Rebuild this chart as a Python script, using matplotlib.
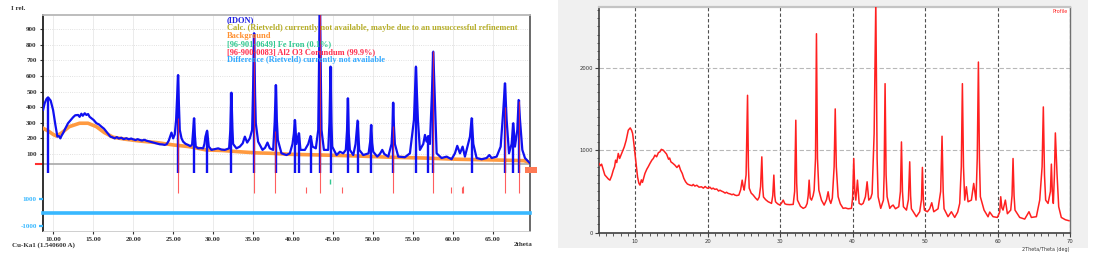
import matplotlib
matplotlib.use("Agg")
import matplotlib.pyplot as plt
from matplotlib.patches import Rectangle
from matplotlib.ticker import MultipleLocator
from matplotlib.transforms import blended_transform_factory

W, H, DPI = 1101, 262, 100

# ---------------- left panel: measured scan (IDON) ----------------
scan_x = [8.73, 8.93, 9.15, 9.35, 9.52, 9.68, 9.98, 10.27, 10.52, 10.7, 10.89, 11.05, 11.23, 11.5,
          11.85, 12.1, 12.48, 12.75, 13.11, 13.3, 13.52, 13.7, 13.94, 14.15, 14.36, 14.55, 14.77,
          15.05, 15.4, 15.7, 16.03, 16.35, 16.65, 16.9, 17.15, 17.4, 17.69, 17.95, 18.2, 18.53,
          18.8, 19.15, 19.45, 19.75, 19.99, 20.3, 20.55, 20.82, 21.1, 21.4, 21.66, 21.95, 22.2,
          22.49, 22.8, 23.05, 23.33, 23.65, 23.95, 24.2, 24.45, 24.79, 25.0, 25.2, 25.37, 25.5,
          25.62, 25.72, 25.83, 26.05, 26.25, 26.55, 26.87, 27.15, 27.37, 27.5, 27.62, 27.72, 27.83,
          28.12, 28.45, 28.75, 28.92, 29.04, 29.25, 29.46, 29.79, 30.2, 30.63, 31.05, 31.46, 32.0,
          32.15, 32.29, 32.42, 32.5, 32.92, 33.34, 33.7, 33.97, 34.26, 34.59, 34.88, 35.0, 35.13,
          35.25, 35.34, 35.63, 36.18, 36.5, 36.8, 37.09, 37.51, 37.7, 37.85, 37.97, 38.1, 38.55,
          39.18, 39.6, 39.93, 40.1, 40.23, 40.43, 40.73, 40.93, 41.48, 41.9, 42.19, 42.44, 42.85,
          43.15, 43.35, 43.56, 43.86, 44.4, 44.55, 44.69, 44.8, 44.9, 45.44, 45.86, 46.28, 46.6,
          46.75, 46.86, 46.97, 47.11, 47.53, 47.82, 48.07, 48.28, 48.78, 49.45, 49.65, 49.78, 49.9,
          50.03, 50.53, 50.86, 51.16, 51.41, 51.91, 52.32, 52.45, 52.53, 52.62, 52.74, 53.16, 53.99,
          54.62, 55.12, 55.37, 55.62, 55.87, 56.29, 56.5, 56.7, 56.91, 57.12, 57.37, 57.54, 57.7,
          57.96, 58.58, 59.21, 59.83, 60.25, 60.54, 60.88, 61.21, 61.5, 62.13, 62.34, 62.55, 62.96,
          63.59, 64.21, 64.55, 64.84, 65.47, 65.97, 66.3, 66.51, 66.72, 67.01, 67.34, 67.55, 67.76,
          68.05, 68.22, 68.39, 68.68, 69.01, 69.43, 69.64]
scan_y = [382, 425, 452, 463, 452, 442, 382, 286, 211, 215, 200, 218, 233, 262,
          297, 312, 335, 348, 350, 338, 358, 345, 361, 350, 356, 338, 329,
          318, 297, 290, 275, 262, 243, 228, 211, 207, 200, 208, 199, 204,
          195, 201, 194, 199, 194, 189, 195, 190, 186, 191, 185, 181, 177,
          173, 170, 166, 162, 161, 158, 163, 185, 237, 200, 225, 318, 470,
          606, 420, 254, 200, 179, 165, 158, 150, 160, 250, 329, 220, 147,
          136, 138, 136, 165, 211, 249, 147, 126, 131, 136, 128, 126, 136,
          250, 493, 260, 164, 136, 147, 168, 211, 173, 200, 254, 520, 874,
          480, 297, 179, 126, 140, 173, 136, 126, 300, 542, 320, 190, 104,
          93, 104, 164, 230, 318, 164, 233, 126, 126, 164, 215, 147, 136,
          254, 1100, 254, 126, 126, 300, 660, 300, 147, 93, 114, 104, 126,
          250, 457, 230, 126, 93, 164, 314, 126, 93, 104, 180, 286, 170,
          114, 83, 100, 126, 100, 83, 164, 280, 429, 280, 164, 83, 79,
          104, 318, 660, 318, 126, 164, 222, 179, 215, 164, 489, 756, 513,
          104, 74, 83, 66, 104, 152, 104, 147, 83, 211, 329, 164, 74,
          66, 74, 93, 74, 83, 147, 382, 553, 318, 104, 164, 297, 147,
          254, 446, 318, 126, 74, 51, 40]

bg_x = [8.73, 9.5, 10.0, 10.4, 11.0, 12.0, 13.3, 14.35, 15.4, 16.4, 17.5, 19.1, 20.8, 22.9,
        25.0, 27.0, 29.1, 31.2, 33.3, 35.4, 37.4, 39.5, 43.8, 48.0, 52.1, 56.3, 60.5, 64.7,
        68.9, 69.64]
bg_y = [265, 243, 225, 215, 233, 275, 297, 297, 275, 237, 207, 194, 183, 173,
        158, 147, 126, 122, 114, 107, 104, 98, 93, 87, 79, 74, 66, 62,
        57, 44]

# peak markers of the scan (blue bars)
peak_x = [9.35, 25.62, 27.62, 29.25, 32.29, 35.13, 37.85, 40.23, 40.73, 42.19, 43.35, 44.69,
          46.86, 48.07, 49.78, 52.53, 55.37, 56.91, 57.54, 62.34, 66.51, 67.55, 68.22]
peak_top = [463, 606, 329, 249, 493, 874, 542, 318, 233, 215, 1100, 660,
            457, 314, 286, 429, 660, 215, 756, 329, 553, 297, 446]

# reference sticks
corundum_x = [25.58, 35.15, 37.78, 41.68, 43.36, 46.18, 52.55, 57.50, 59.74, 61.12, 61.30,
              66.52, 68.21]
corundum_top = [330, 870, 250, -111, 1100, -111, 280, 760, -111, -111, -105, 400, 440]
iron_x = [44.67]
diff_x = [8.72, 69.64]
diff_y = [0, 0]

legend_lines = [
    ("(IDON)", "#2020e0"),
    ("Calc. (Rietveld) currently not available, maybe due to an unsuccessful refinement", "#b5ad28"),
    ("Background", "#ff9030"),
    ("[96-901-0649] Fe Iron (0.1%)", "#30c890"),
    ("[96-900-0083] Al2 O3 Corundum (99.9%)", "#ff3050"),
    ("Difference (Rietveld) currently not available", "#30a8ff"),
]
left_xticks = [10, 15, 20, 25, 30, 35, 40, 45, 50, 55, 60, 65]
left_yticks = [100, 200, 300, 400, 500, 600, 700, 800, 900]

# ---------------- right panel: profile ----------------
prof_x = [4.99, 5.2, 5.36, 5.6, 5.8, 6.05, 6.3, 6.51, 6.75, 6.97, 7.15, 7.29, 7.45, 7.66, 7.85,
          8.03, 8.25, 8.49, 8.75, 9.04, 9.31, 9.5, 9.64, 9.8, 9.96, 10.15, 10.32, 10.5, 10.65,
          10.85, 11.0, 11.34, 11.6, 11.8, 12.03, 12.3, 12.5, 12.72, 12.95, 13.2, 13.41, 13.6,
          13.87, 14.1, 14.33, 14.6, 14.75, 14.92, 15.2, 15.47, 15.75, 16.03, 16.25, 16.49, 16.7,
          16.95, 17.2, 17.54, 17.85, 18.0, 18.23, 18.5, 18.8, 19.15, 19.4, 19.65, 19.85, 20.07,
          20.3, 20.55, 20.75, 20.99, 21.25, 21.5, 21.7, 21.91, 22.15, 22.4, 22.6, 22.83, 23.1,
          23.35, 23.55, 23.75, 24.0, 24.3, 24.55, 24.76, 24.9, 25.04, 25.3, 25.5, 25.62, 25.73,
          26.0, 26.28, 26.6, 26.88, 27.11, 27.3, 27.47, 27.6, 27.7, 28.0, 28.35, 28.6, 28.81,
          28.98, 29.13, 29.25, 29.36, 29.65, 29.96, 30.2, 30.42, 30.65, 30.88, 31.3, 31.8, 32.0,
          32.16, 32.28, 32.39, 32.8, 33.18, 33.5, 33.73, 33.87, 34.0, 34.15, 34.33, 34.55, 34.69,
          34.88, 35.01, 35.15, 35.34, 35.7, 36.07, 36.4, 36.62, 36.8, 36.99, 37.2, 37.45, 37.6,
          37.75, 38.0, 38.3, 38.69, 39.0, 39.38, 39.84, 40.0, 40.16, 40.3, 40.44, 40.67, 40.9,
          41.2, 41.45, 41.77, 42.0, 42.23, 42.5, 42.69, 42.97, 43.2, 43.38, 43.52, 43.88, 44.25,
          44.35, 44.48, 44.62, 44.76, 45.13, 45.35, 45.59, 45.91, 46.37, 46.6, 46.74, 46.88, 47.01,
          47.43, 47.7, 47.88, 48.0, 48.11, 48.8, 49.26, 49.5, 49.63, 49.76, 49.91, 50.32, 50.64,
          50.92, 51.2, 51.79, 52.15, 52.34, 52.5, 52.62, 53.17, 53.63, 54.09, 54.5, 54.78, 55.0,
          55.15, 55.3, 55.47, 55.7, 55.93, 56.39, 56.71, 57.03, 57.2, 57.36, 57.5, 57.63, 58.14,
          58.69, 58.92, 59.38, 59.98, 60.3, 60.44, 60.6, 60.76, 61.08, 61.36, 61.82, 62.0, 62.14,
          62.28, 62.41, 63.06, 63.75, 64.34, 64.67, 65.36, 65.82, 66.15, 66.32, 66.48, 66.64,
          66.97, 67.3, 67.43, 67.56, 67.7, 67.85, 67.98, 68.21, 68.44, 68.8, 69.36, 69.86]
prof_y = [839, 812, 830, 760, 700, 674, 650, 637, 690, 758, 800, 879, 850, 960, 900,
          940, 990, 1040, 1120, 1242, 1270, 1240, 1202, 1090, 960, 800, 677, 600, 577,
          640, 610, 718, 770, 800, 839, 880, 900, 940, 920, 970, 980, 1010,
          1000, 975, 952, 890, 905, 859, 840, 819, 790, 819, 760, 718, 660,
          617, 590, 577, 570, 585, 565, 575, 552, 556, 540, 560, 545, 537,
          552, 530, 540, 525, 530, 505, 515, 504, 495, 480, 490, 476, 470,
          460, 468, 456, 450, 456, 520, 637, 560, 516, 700, 1665, 800, 540,
          480, 456, 420, 395, 432, 560, 919, 540, 432, 400, 375, 365, 355,
          450, 698, 450, 375, 350, 335, 360, 395, 350, 343, 340, 343, 500,
          1363, 600, 395, 320, 295, 310, 355, 450, 637, 420, 395, 450, 516,
          900, 2411, 900, 516, 395, 335, 400, 496, 400, 355, 420, 800, 1500,
          800, 436, 350, 295, 300, 290, 295, 420, 899, 500, 395, 637, 355,
          340, 355, 436, 617, 395, 420, 476, 1200, 2800, 900, 436, 295, 395,
          700, 1806, 700, 436, 295, 320, 335, 290, 315, 500, 1100, 500, 315,
          274, 400, 859, 450, 290, 194, 254, 400, 791, 400, 274, 254, 290,
          363, 254, 290, 500, 1169, 500, 290, 194, 254, 185, 250, 355, 800,
          1806, 800, 395, 557, 375, 395, 597, 395, 900, 2068, 900, 436, 274,
          193, 250, 194, 185, 250, 436, 300, 274, 395, 230, 274, 450, 899,
          450, 274, 185, 165, 254, 185, 194, 395, 800, 1524, 700, 395,
          355, 500, 831, 500, 355, 700, 1209, 710, 315, 185, 157, 145]
right_xticks = [10, 20, 30, 40, 50, 60, 70]
right_yticks = [0, 1000, 2000]

assert len(scan_x) == len(scan_y) and len(prof_x) == len(prof_y)


def box(left, top, right, bottom):
    """pixel box -> figure fraction rect"""
    return [left / W, 1 - bottom / H, (right - left) / W, (bottom - top) / H]


fig = plt.figure(figsize=(W / DPI, H / DPI), dpi=DPI)
serif = dict(family="Liberation Serif", weight="bold")

# gray backdrop of the right-hand screenshot, drawn behind everything
fig.patches.append(Rectangle((558 / W, 1 - 248 / H), (1088 - 558) / W, 248 / H,
                             transform=fig.transFigure, facecolor="#f0f0f0",
                             edgecolor="none", zorder=-5))

# ---------------- left panel ----------------
ax = fig.add_axes(box(43, 15, 530, 231))
ax.set_xlim(8.72, 69.64)
ax.set_ylim(-394, 991)
ax.grid(axis="x", color="#e8e8e8", lw=0.6)
ax.grid(axis="y", color="#d8d8d8", lw=0.6, ls=":")
ax.axhline(35, color="#a8a8a8", lw=1.2, zorder=2)
ax.plot(bg_x, bg_y, color="#ff9a40", lw=2.6, zorder=3)
ax.plot(scan_x, scan_y, color="#1010f0", lw=1.6, zorder=4)
ax.vlines(peak_x, -22, peak_top, color="#1010f0", lw=1.7, zorder=4)
ax.vlines(corundum_x, -150, corundum_top, color="#ff2a2a", lw=0.8, alpha=0.75, zorder=5)
ax.vlines(iron_x, -92, -62, color="#30c890", lw=1.0, zorder=5)
zero_tr = blended_transform_factory(ax.transAxes, ax.transData)
ax.plot([-0.014, 0], [35, 35], transform=zero_tr, color="#ff3030", lw=1.5, clip_on=False)

ax.set_xticks(left_xticks)
ax.set_xticklabels([f"{v:.2f}" for v in left_xticks], fontsize=5, color="#333333", **serif)
ax.set_yticks(left_yticks)
ax.set_yticklabels([str(v) for v in left_yticks], fontsize=5, color="#333333", **serif)
ax.tick_params(axis="both", direction="out", length=2.5, width=0.8, color="#333333", pad=2)
for side, col, lw in [("left", "#202020", 1.3), ("top", "#b8b8b8", 1.3),
                      ("right", "#505050", 1.2), ("bottom", "#c8c8c8", 0.6)]:
    ax.spines[side].set_color(col)
    ax.spines[side].set_linewidth(lw)

# difference curve on its own scale
axd = fig.add_axes(box(43, 15, 530, 231))
axd.patch.set_visible(False)
axd.set_xlim(ax.get_xlim())
axd.set_ylim(-1370, 14630)
axd.plot(diff_x, diff_y, color="#38b8ff", lw=2.6, clip_on=False)
axd.set_yticks([1000, -1000])
axd.set_yticklabels(["1000", "-1000"], fontsize=5, color="#38b8ff", **serif)
axd.tick_params(axis="y", direction="out", length=3, width=1.6, color="#38b8ff", pad=1.5)
axd.set_xticks([])
for s in axd.spines.values():
    s.set_visible(False)

for i, (txt, col) in enumerate(legend_lines):
    fig.text(227 / W, 1 - (20 + 8.1 * i) / H, txt, color=col, fontsize=6.0,
             va="center", ha="left", **serif)
fig.text(11 / W, 1 - 9 / H, "I rel.", fontsize=5, color="#333333", va="center", **serif)
fig.text(12 / W, 1 - 245 / H, "Cu-Ka1 (1.540600 A)", fontsize=5, color="#333333",
         va="center", **serif)
fig.text(514 / W, 1 - 245 / H, "2theta", fontsize=5, color="#333333", va="center", **serif)
fig.patches.append(Rectangle((525 / W, 1 - 173 / H), 12 / W, 6 / H, transform=fig.transFigure,
                             facecolor="#ff7a55", edgecolor="none", zorder=6))

# ---------------- right panel ----------------
axr = fig.add_axes(box(599, 7, 1070, 232.7))
axr.set_facecolor("white")
axr.set_xlim(5, 70)
axr.set_ylim(0, 2735)
axr.plot(prof_x, prof_y, color="#ff2020", lw=1.1, zorder=3)
axr.set_xticks(right_xticks)
axr.set_xticklabels([str(v) for v in right_xticks], fontsize=3.8, color="#333333")
axr.set_yticks(right_yticks)
axr.set_yticklabels([str(v) for v in right_yticks], fontsize=3.8, color="#333333")
axr.xaxis.set_minor_locator(MultipleLocator(1))
axr.yaxis.set_minor_locator(MultipleLocator(100))
axr.tick_params(which="major", direction="out", length=3, width=0.8, color="#404040", pad=1.5)
axr.tick_params(which="minor", direction="out", length=1.8, width=0.6, color="#404040")
axr.grid(axis="x", which="major", color="#505050", lw=0.8, ls=(0, (3, 2)))
axr.grid(axis="y", which="major", color="#b8b8b8", lw=0.8, ls=(0, (4, 2)))
for side, col, lw in [("left", "#404040", 1.2), ("bottom", "#404040", 1.2),
                      ("top", "#c4c4c4", 1.6), ("right", "#707070", 1.0)]:
    axr.spines[side].set_color(col)
    axr.spines[side].set_linewidth(lw)
axr.text(0.995, 0.992, "Profile", transform=axr.transAxes, ha="right", va="top",
         color="#ff2020", fontsize=3.5)
fig.text(1070 / W, 1 - 249 / H, "2Theta/Theta (deg)", ha="right", va="center",
         fontsize=3.5, color="#333333")

fig.savefig("out.png", dpi=DPI)
